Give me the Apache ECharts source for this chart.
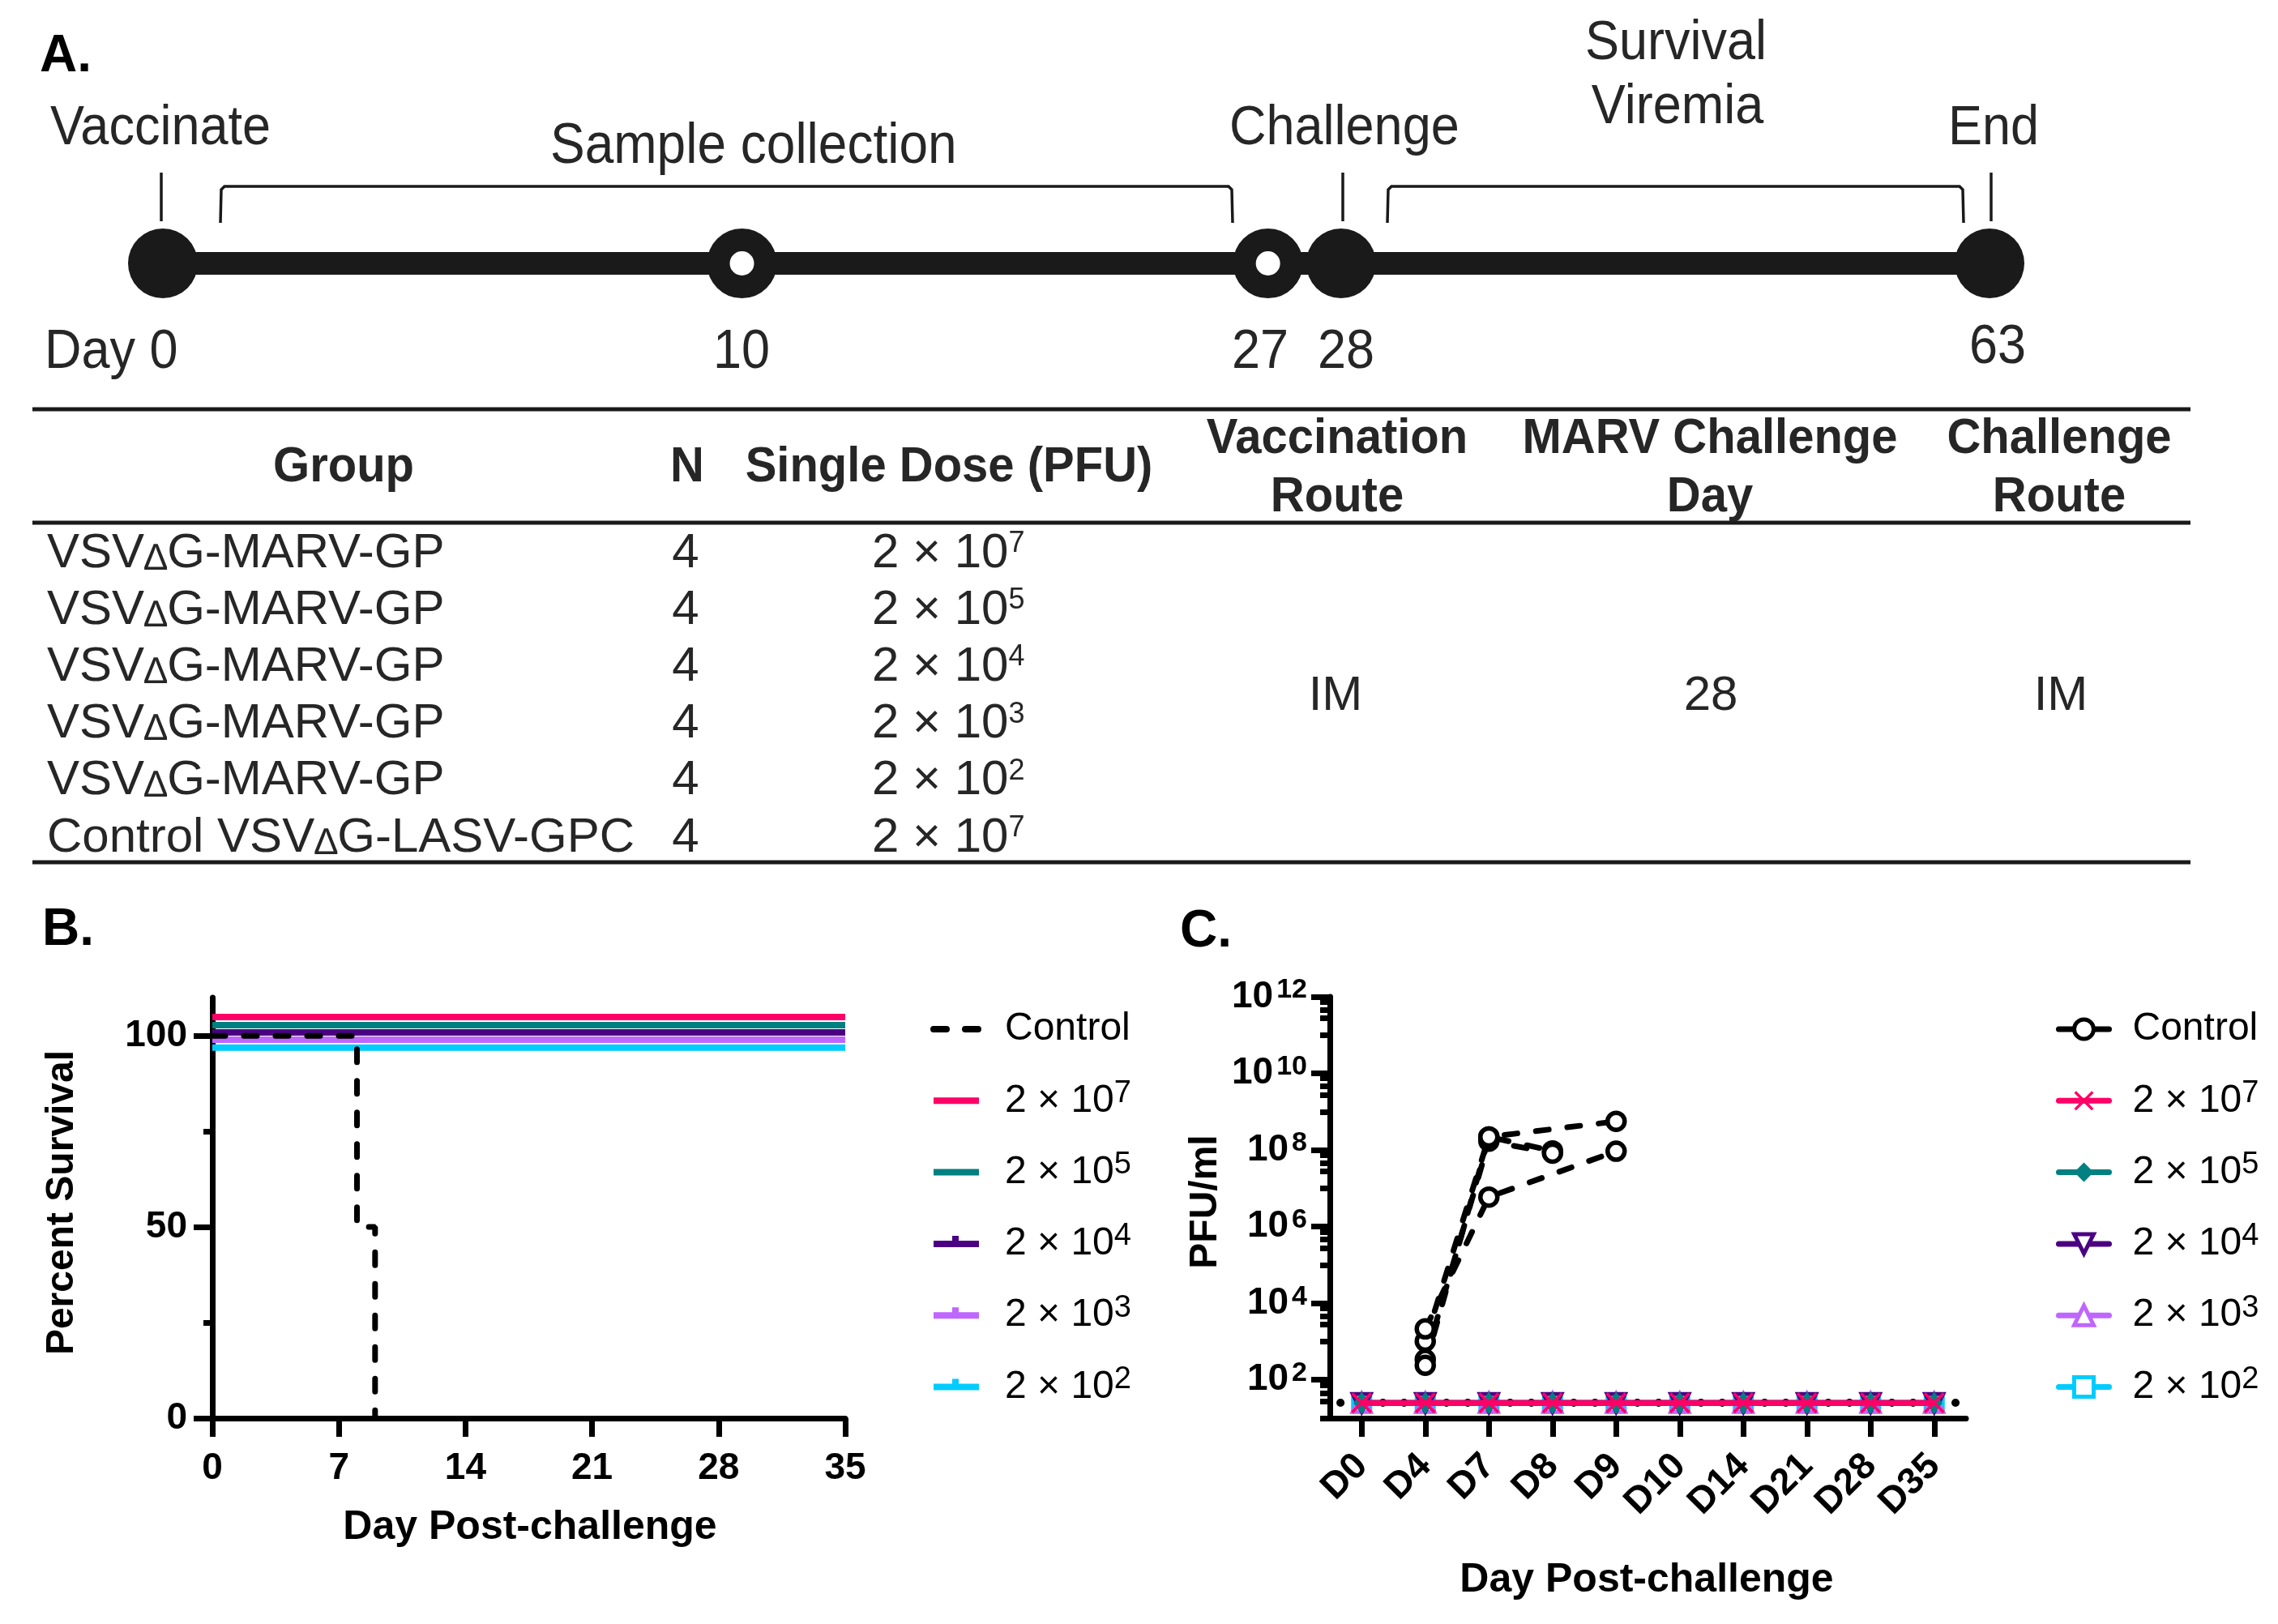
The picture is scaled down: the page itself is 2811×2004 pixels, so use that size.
<!DOCTYPE html>
<html><head><meta charset="utf-8">
<script src="https://cdn.jsdelivr.net/npm/echarts@6/dist/echarts.min.js"></script>
<style>html,body{margin:0;padding:0;background:#fff}#main{width:2811px;height:2004px}</style>
</head><body><div id="main"></div>
<script>
// ---------------- Panel A: study timeline ----------------
const timelineDays = [0, 10, 27, 28, 63];
const timelineHollow = [false, true, true, false, false];
// schematic (non-linear) placement of each day along the drawn timeline, in % of its length
const timelineScale = {0: 0, 10: 31.7, 27: 60.5, 28: 64.5, 63: 100};

// ---------------- Panel A: table ----------------
const tableHeaders = ['Group', 'N', 'Single Dose (PFU)'];
const tableHeaders2 = [['Vaccination', 'Route'], ['MARV Challenge', 'Day'], ['Challenge', 'Route']];
const tableGroups = ['VSV∆G-MARV-GP', 'VSV∆G-MARV-GP', 'VSV∆G-MARV-GP', 'VSV∆G-MARV-GP', 'VSV∆G-MARV-GP', 'Control VSV∆G-LASV-GPC'];
const tableN = [4, 4, 4, 4, 4, 4];
const tableDoseExp = [7, 5, 4, 3, 2, 7];
const tableShared = ['IM', '28', 'IM'];

// ---------------- Panel B: survival ----------------
const survDays = [0, 35];
const surv2e7 = [104.9, 104.9];
const surv2e5 = [102.8, 102.8];
const surv2e4 = [100.9, 100.9];
const surv2e3 = [99.0, 99.0];
const surv2e2 = [96.9, 96.9];
const controlSurvDays = [0, 8, 9];
const controlSurv = [100, 50, 0];
const survXTicks = [0, 7, 14, 21, 28, 35];

// ---------------- Panel C: viremia ----------------
const viremiaDays = ['D0', 'D4', 'D7', 'D8', 'D9', 'D10', 'D14', 'D21', 'D28', 'D35'];
const controlAnimal1 = [null, 1020, 2.2e8, 9.5e7, null, null, null, null, null, null];
const controlAnimal2 = [null, 340, 1.7e8, 8.3e7, null, null, null, null, null, null];
const controlAnimal3 = [null, 240, 2.2e8, null, 5.6e8, null, null, null, null, null];
const controlAnimal4 = [null, 2140, 5.9e6, null, 9.3e7, null, null, null, null, null];
const vir2e7 = [25, 25, 25, 25, 25, 25, 25, 25, 25, 25];
const vir2e5 = [25, 25, 25, 25, 25, 25, 25, 25, 25, 25];
const vir2e4 = [25, 25, 25, 25, 25, 25, 25, 25, 25, 25];
const vir2e3 = [25, 25, 25, 25, 25, 25, 25, 25, 25, 25];
const vir2e2 = [25, 25, 25, 25, 25, 25, 25, 25, 25, 25];
const limitOfDetection = 25;
const virMajorExp = [2, 4, 6, 8, 10, 12];

// ---------------- styles ----------------
const FONT = 'Liberation Sans';
const doseKeys = ['7', '5', '4', '3', '2'];
const doseColors = ['#FF0066', '#008080', '#4B0082', '#BF66FF', '#00CCFF'];
const survVals = [surv2e7, surv2e5, surv2e4, surv2e3, surv2e2];
const virVals = [vir2e7, vir2e5, vir2e4, vir2e3, vir2e2];
const controlAnimals = [controlAnimal1, controlAnimal2, controlAnimal3, controlAnimal4];
const xPath = 'path://M0,2L2,0L10,8L18,0L20,2L12,10L20,18L18,20L10,12L2,20L0,18L8,10Z';
const virSymbols = [xPath, 'diamond', 'triangle', 'triangle', 'rect'];
const virSymRot = [0, 0, 180, 0, 0];
const virSymSize = [26, [20, 28], 22, 22, 21];
const virSymFill = [null, null, '#fff', '#fff', '#fff'];
const virSymBorder = [0, 0, 5, 5, 5];
const INK = '#1a1a1a', TXT = '#262626';

const chart = echarts.init(document.getElementById('main'), null, {renderer: 'canvas', width: 2811, height: 2004});

// ---------- graphic helpers (text, rules) ----------
function T(text, x, y, o) {
  o = o || {};
  return {
    type: 'text', x: x, y: y, rotation: o.rot || 0, scaleY: o.sy || 1, z: 50,
    style: {
      text: text, fontSize: o.size || 60, fontWeight: o.bold ? 'bold' : 'normal', fontFamily: FONT,
      fill: o.color || TXT, align: o.align || 'left', textAlign: o.align || 'left',
      verticalAlign: 'middle', textVerticalAlign: 'middle', rich: o.rich
    }
  };
}
function L(x1, y1, x2, y2, w) {
  return {type: 'line', z: 40, shape: {x1: x1, y1: y1, x2: x2, y2: y2}, style: {stroke: INK, lineWidth: w}};
}
function P(points, w) {
  return {type: 'polyline', z: 40, shape: {points: points}, style: {stroke: INK, lineWidth: w, fill: null}};
}

const g = [];
const SY = 1.1;
// panel letters
g.push(T('A.', 49, 70, {size: 64, bold: true, color: '#000'}));
g.push(T('B.', 52, 1148, {size: 64, bold: true, color: '#000'}));
g.push(T('C.', 1456, 1150, {size: 64, bold: true, color: '#000'}));
// timeline annotations
g.push(T('Vaccinate', 62, 159, {size: 63, sy: SY}));
g.push(T('Sample collection', 679, 182, {size: 64, sy: SY}));
g.push(T('Challenge', 1517, 159, {size: 63, sy: SY}));
g.push(T('Survival', 2068, 54, {size: 63, align: 'center', sy: SY}));
g.push(T('Viremia', 2070, 133, {size: 63, align: 'center', sy: SY}));
g.push(T('End', 2404, 159, {size: 63, sy: SY}));
g.push(T('Day 0', 55, 435, {size: 63, sy: SY}));
g.push(T('10', 915, 435, {size: 63, align: 'center', sy: SY}));
g.push(T('27', 1555, 435, {size: 63, align: 'center', sy: SY}));
g.push(T('28', 1661, 435, {size: 63, align: 'center', sy: SY}));
g.push(T('63', 2465, 429, {size: 63, align: 'center', sy: SY}));
g.push(L(199, 213, 199, 273, 3.5));
g.push(L(1657, 213, 1657, 273, 3.5));
g.push(L(2457, 213, 2457, 273, 3.5));
g.push(P([[272, 275], [273, 234], [277, 230], [1516, 230], [1520, 234], [1521, 275]], 3.5));
g.push(P([[1712, 275], [1713, 234], [1717, 230], [2418, 230], [2422, 234], [2423, 275]], 3.5));
// table rules
g.push(L(40, 505, 2703, 505, 5));
g.push(L(40, 645, 2703, 645, 5));
g.push(L(40, 1064, 2703, 1064, 5));
// table headers
const hx = [424, 848, 1171];
tableHeaders.forEach((h, i) => g.push(T(h, hx[i], 577, {size: 58, bold: true, align: 'center', sy: 1.05})));
const h2x = [1650, 2110, 2541];
tableHeaders2.forEach((h, i) => {
  g.push(T(h[0], h2x[i], 542, {size: 58, bold: true, align: 'center', sy: 1.05}));
  g.push(T(h[1], h2x[i], 614, {size: 58, bold: true, align: 'center', sy: 1.05}));
});
const bodyRich = {
  d: {fontSize: 46, lineHeight: 54, verticalAlign: 'bottom', fontFamily: FONT, fill: TXT, color: TXT},
  s: {fontSize: 36, lineHeight: 48, verticalAlign: 'top', fontFamily: FONT, fill: TXT, color: TXT}
};
tableGroups.forEach((name, i) => {
  const y = 683 + i * 70.2;
  g.push(T(name.replace('∆', '{d|∆}'), 58, y, {size: 60, rich: bodyRich}));
  g.push(T(String(tableN[i]), 846, y, {size: 60, align: 'center'}));
  g.push(T('2 × 10{s|' + tableDoseExp[i] + '}', 1076, y, {size: 60, rich: bodyRich}));
});
[1648, 2111, 2543].forEach((x, i) => g.push(T(tableShared[i], x, 859, {size: 60, align: 'center'})));
// axis titles
g.push(T('Percent Survival', 77, 1484, {size: 48, bold: true, color: '#000', align: 'center', rot: Math.PI / 2}));
g.push(T('Day Post-challenge', 654, 1885, {size: 50, bold: true, color: '#000', align: 'center'}));
g.push(T('PFU/ml', 1488, 1483, {size: 48, bold: true, color: '#000', align: 'center', rot: Math.PI / 2}));
g.push(T('Day Post-challenge', 2032, 1950, {size: 50, bold: true, color: '#000', align: 'center'}));

// ---------- axes helpers ----------
const axLine = {show: true, onZero: false, lineStyle: {color: '#000', width: 7}};
const tickLbl = {fontSize: 46, fontWeight: 'bold', color: '#000', fontFamily: FONT};

const minorExp = [];
virMajorExp.forEach(e => [0.13, 0.34, 0.56, 1.0].forEach(o => minorExp.push(+(e - o).toFixed(2))));

// ---------- series ----------
const series = [];
// timeline
series.push({type: 'line', xAxisIndex: 0, yAxisIndex: 0, symbol: 'none', z: 2, silent: true,
  data: timelineDays.map(d => [timelineScale[d], 0]), lineStyle: {color: INK, width: 28, cap: 'butt', opacity: 1}});
series.push({type: 'scatter', xAxisIndex: 0, yAxisIndex: 0, symbol: 'circle', symbolSize: 86, z: 3, silent: true,
  data: timelineDays.filter((d, i) => !timelineHollow[i]).map(d => [timelineScale[d], 0]), itemStyle: {color: INK, opacity: 1}});
series.push({type: 'scatter', xAxisIndex: 0, yAxisIndex: 0, symbol: 'circle', symbolSize: 58, z: 3, silent: true,
  data: timelineDays.filter((d, i) => timelineHollow[i]).map(d => [timelineScale[d], 0]),
  itemStyle: {color: '#fff', borderColor: INK, borderWidth: 28, opacity: 1}});

// survival
doseKeys.forEach((k, i) => {
  series.push({type: 'line', name: 'B-' + k, xAxisIndex: 1, yAxisIndex: 1, symbol: 'none', z: 3,
    color: doseColors[i], itemStyle: {color: doseColors[i]},
    data: survDays.map((d, j) => [d, survVals[i][j]]), lineStyle: {color: doseColors[i], width: 8, cap: 'butt'}});
});
series.push({type: 'line', name: 'B-Control', xAxisIndex: 1, yAxisIndex: 1, symbol: 'none', step: 'end', z: 5,
  color: '#000', itemStyle: {color: '#000'},
  data: controlSurvDays.map((d, j) => [d, controlSurv[j]]),
  lineStyle: {color: '#000', width: 7, type: [16, 23], cap: 'round'}});

// viremia
for (let i = doseKeys.length - 1; i >= 0; i--) {
  series.push({type: 'line', name: 'C-' + doseKeys[i], xAxisIndex: 2, yAxisIndex: 3, z: 3 + (4 - i),
    symbol: virSymbols[i], symbolRotate: virSymRot[i], symbolSize: virSymSize[i],
    color: doseColors[i],
    itemStyle: {color: virSymFill[i] || doseColors[i], borderColor: doseColors[i], borderWidth: virSymBorder[i]},
    lineStyle: {color: doseColors[i], width: 7},
    data: virVals[i]});
}
controlAnimals.forEach((arr) => {
  series.push({type: 'line', name: 'C-Control', xAxisIndex: 2, yAxisIndex: 3, z: 9, connectNulls: true,
    symbol: 'circle', symbolSize: 21, color: '#fff',
    itemStyle: {color: '#fff', borderColor: '#000', borderWidth: 5.5},
    lineStyle: {color: '#000', width: 7, type: [16, 23], cap: 'round'},
    data: arr});
});
series.push({type: 'line', name: 'LOD', xAxisIndex: 2, yAxisIndex: 3, z: 12, symbol: 'none',
  lineStyle: {opacity: 0, width: 0}, data: viremiaDays.map(() => limitOfDetection), silent: true,
  markLine: {silent: true, symbol: 'none', label: {show: false}, animation: false,
    lineStyle: {color: '#000', width: 10, type: [0.1, 26.07], dashOffset: 13.09, cap: 'round'},
    data: [{yAxis: limitOfDetection}]}});

const legendFmt = name => {
  const k = name.split('-')[1];
  return k === 'Control' ? 'Control' : '2 × 10{s|' + k + '}';
};
const legendText = {fontSize: 48, fontFamily: FONT, color: '#000', lineHeight: 56, padding: [0, 0, 0, 24],
  rich: {s: {fontSize: 38, lineHeight: 32, verticalAlign: 'top', fontFamily: FONT, color: '#000'}}};
const flatIcon = 'path://M0,0L0,0M63,20L63,20M4,6h56v8h-56z';
const bumpIcon = 'path://M0,0L0,0M63,20L63,20M4,6h56v8h-56zM27,0h8v6h-8z';
const dashIcon = 'path://M0,0L0,0M63,20L63,20M4,6h16a4,4 0 0 1 0,8h-16a4,4 0 0 1 0,-8zM43,6h16a4,4 0 0 1 0,8h-16a4,4 0 0 1 0,-8z';

chart.setOption({
  animation: false,
  backgroundColor: '#fff',
  textStyle: {fontFamily: FONT},
  graphic: {elements: g},
  grid: [
    {left: 201, top: 275, width: 2254, height: 100},
    {left: 262, top: 1231, width: 781, height: 519},
    {left: 1641, top: 1230, width: 785, height: 520}
  ],
  xAxis: [
    {gridIndex: 0, type: 'value', min: 0, max: 100, show: false},
    {gridIndex: 1, type: 'value', min: 0, max: 35, interval: 7, axisLine: axLine,
      axisTick: {show: true, length: 23, lineStyle: {width: 7, color: '#000'}, customValues: survXTicks},
      axisLabel: Object.assign({margin: 39, customValues: survXTicks}, tickLbl), splitLine: {show: false}},
    {gridIndex: 2, type: 'category', data: viremiaDays, boundaryGap: true, axisLine: axLine,
      axisTick: {show: true, alignWithLabel: true, length: 23, lineStyle: {width: 7, color: '#000'}},
      axisLabel: Object.assign({rotate: 45, interval: 0, margin: 52}, tickLbl), splitLine: {show: false}}
  ],
  yAxis: [
    {gridIndex: 0, type: 'value', min: -1, max: 1, show: false},
    {gridIndex: 1, type: 'value', position: 'left', min: 0, max: 110, axisLine: axLine,
      axisTick: {show: true, length: 23, lineStyle: {width: 7, color: '#000'}, customValues: [0, 50, 100]},
      axisLabel: Object.assign({margin: 31, customValues: [0, 50, 100]}, tickLbl), splitLine: {show: false}},
    {gridIndex: 1, type: 'value', position: 'left', min: 0, max: 110, axisLine: {show: false},
      axisTick: {show: true, length: 11, lineStyle: {width: 7, color: '#000'}, customValues: [25, 75]},
      axisLabel: {show: false}, splitLine: {show: false}},
    {gridIndex: 2, type: 'log', logBase: 10, position: 'left', min: 10, max: 1e12, axisLine: axLine,
      axisTick: {show: false}, axisLabel: {show: false}, splitLine: {show: false}, minorTick: {show: false}},
    {gridIndex: 2, type: 'value', position: 'left', min: 1, max: 12, axisLine: {show: false},
      axisTick: {show: true, length: 23, lineStyle: {width: 7, color: '#000'}, customValues: virMajorExp},
      axisLabel: Object.assign({margin: 28, customValues: virMajorExp, lineHeight: 50,
        formatter: v => '10{s|' + v + '}',
        rich: {s: {fontSize: 34, fontWeight: 'bold', lineHeight: 24, verticalAlign: 'top', color: '#000', fontFamily: FONT, padding: [0, 0, 0, 4]}}}, tickLbl),
      splitLine: {show: false}},
    {gridIndex: 2, type: 'value', position: 'left', min: 1, max: 12, axisLine: {show: false},
      axisTick: {show: true, length: 12, lineStyle: {width: 7, color: '#000'}, customValues: minorExp},
      axisLabel: {show: false}, splitLine: {show: false}}
  ],
  legend: [
    {orient: 'vertical', left: 1148, top: 1242, padding: 0, itemGap: 32.3, itemWidth: 63, itemHeight: 20,
      selectedMode: false, formatter: legendFmt, textStyle: legendText,
      data: [{name: 'B-Control', icon: dashIcon}, {name: 'B-7', icon: flatIcon}, {name: 'B-5', icon: flatIcon},
        {name: 'B-4', icon: bumpIcon}, {name: 'B-3', icon: bumpIcon}, {name: 'B-2', icon: bumpIcon}]},
    {orient: 'vertical', left: 2537, top: 1242, padding: 0, itemGap: 32.3, itemWidth: 62, itemHeight: 30,
      selectedMode: false, formatter: legendFmt, textStyle: legendText,
      lineStyle: {width: 7, cap: 'round'},
      data: [{name: 'C-Control', lineStyle: {type: 'solid', width: 7}, itemStyle: {borderWidth: 5, color: '#fff', borderColor: '#000'}},
        {name: 'C-7', itemStyle: {borderWidth: 0}}, {name: 'C-5', itemStyle: {borderWidth: 0}},
        {name: 'C-4', itemStyle: {borderWidth: 5}}, {name: 'C-3', itemStyle: {borderWidth: 5}},
        {name: 'C-2', itemStyle: {borderWidth: 5}}]}
  ],
  series: series
});
</script></body></html>
